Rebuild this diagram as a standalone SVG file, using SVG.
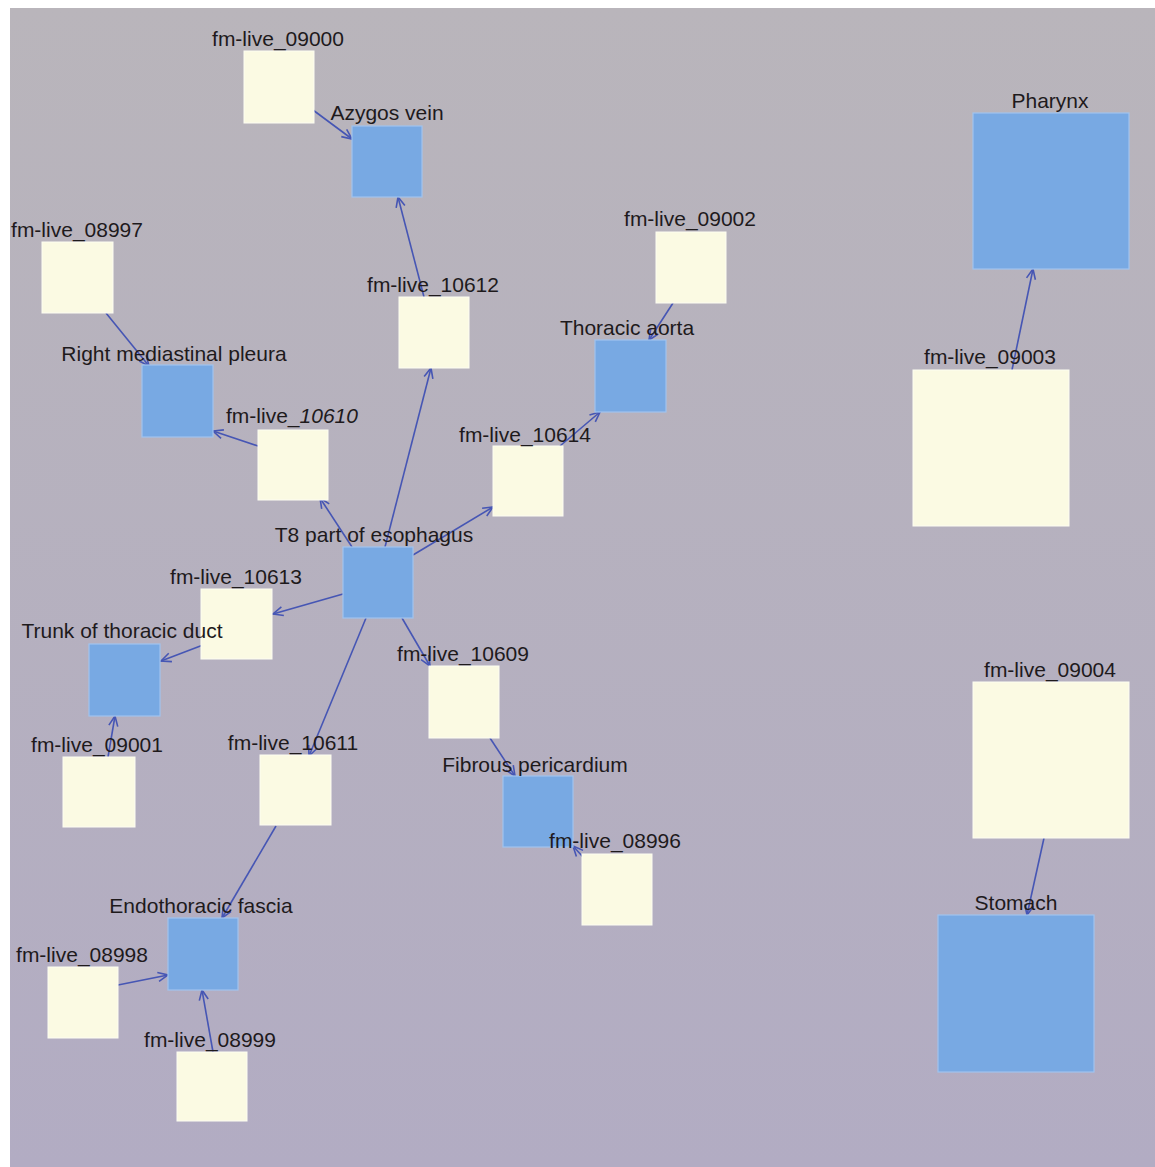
<svg xmlns="http://www.w3.org/2000/svg" width="1155" height="1167" viewBox="0 0 1155 1167">
<defs>
<linearGradient id="bg" x1="0" y1="0" x2="0" y2="1">
<stop offset="0" stop-color="#b9b5bb"/>
<stop offset="1" stop-color="#b2acc3"/>
</linearGradient>
<marker id="arr" viewBox="-12 -7 14 14" refX="0" refY="0" markerWidth="14" markerHeight="14" markerUnits="userSpaceOnUse" orient="auto">
<path d="M-10,-4.5 L0,0 L-10,4.5" fill="none" stroke="#4656b4" stroke-width="1.6"/>
</marker>
<style>
.lbl{font-family:"Liberation Sans",Arial,sans-serif;font-size:21px;fill:#1e1a1c;text-anchor:middle}
.cls{fill:#78a9e3;stroke:#a0c4ee;stroke-width:1.2}
.inst{fill:#fbfae3;stroke:#fdfdf2;stroke-width:1}
.edge{fill:none;stroke:#4656b4;stroke-width:1.6;marker-end:url(#arr)}
</style>
</defs>
<rect x="0" y="0" width="1155" height="1167" fill="#ffffff"/>
<rect x="10" y="8" width="1145" height="1159" fill="url(#bg)"/>

<g id="connectors">
<line class="edge" x1="313" y1="110" x2="352" y2="139"/>
<line class="edge" x1="424" y1="297" x2="398" y2="197"/>
<line class="edge" x1="385" y1="547" x2="431" y2="368"/>
<line class="edge" x1="106" y1="313" x2="149" y2="366"/>
<line class="edge" x1="258" y1="446" x2="213" y2="431"/>
<line class="edge" x1="352" y1="547" x2="320" y2="498"/>
<line class="edge" x1="413" y1="555" x2="493" y2="507"/>
<line class="edge" x1="560" y1="446" x2="600" y2="412"/>
<line class="edge" x1="673" y1="303" x2="649" y2="340"/>
<line class="edge" x1="343" y1="594" x2="273" y2="614"/>
<line class="edge" x1="203" y1="645" x2="161" y2="661"/>
<line class="edge" x1="108" y1="757" x2="115" y2="716"/>
<line class="edge" x1="402" y1="618" x2="430" y2="666"/>
<line class="edge" x1="490" y1="738" x2="515" y2="776"/>
<line class="edge" x1="583" y1="857" x2="573" y2="846"/>
<line class="edge" x1="366" y1="618" x2="309" y2="756"/>
<line class="edge" x1="276" y1="826" x2="222" y2="918"/>
<line class="edge" x1="118" y1="985" x2="168" y2="975"/>
<line class="edge" x1="213" y1="1052" x2="202" y2="990"/>
<line class="edge" x1="1012" y1="370" x2="1033" y2="269"/>
<line class="edge" x1="1044" y1="838" x2="1027" y2="915"/>
</g>

<g id="n09000"><rect class="inst" x="244" y="51" width="70" height="72"/><text class="lbl" x="278" y="46">fm-live_09000</text></g>
<g id="azygos"><rect class="cls" x="352" y="126" width="70" height="71"/><text class="lbl" x="387" y="120">Azygos vein</text></g>
<g id="n08997"><rect class="inst" x="42" y="242" width="71" height="71"/><text class="lbl" x="77" y="237">fm-live_08997</text></g>
<g id="n10612"><rect class="inst" x="399" y="297" width="70" height="71"/><text class="lbl" x="433" y="292">fm-live_10612</text></g>
<g id="n09002"><rect class="inst" x="656" y="232" width="70" height="71"/><text class="lbl" x="690" y="226">fm-live_09002</text></g>
<g id="thoracic_aorta"><rect class="cls" x="595" y="340" width="71" height="72"/><text class="lbl" x="627" y="335">Thoracic aorta</text></g>
<g id="right_mediastinal_pleura"><rect class="cls" x="142" y="365" width="71" height="72"/><text class="lbl" x="174" y="361">Right mediastinal pleura</text></g>
<g id="n10610"><rect class="inst" x="258" y="430" width="70" height="70"/><text class="lbl" x="292" y="423">fm-live_<tspan font-style="italic">10610</tspan></text></g>
<g id="n10614"><rect class="inst" x="493" y="446" width="70" height="70"/><text class="lbl" x="525" y="442">fm-live_10614</text></g>
<g id="t8_esophagus"><rect class="cls" x="343" y="547" width="70" height="71"/><text class="lbl" x="374" y="542">T8 part of esophagus</text></g>
<g id="n10613"><rect class="inst" x="201" y="589" width="71" height="70"/><text class="lbl" x="236" y="584">fm-live_10613</text></g>
<g id="trunk_thoracic_duct"><rect class="cls" x="89" y="644" width="71" height="72"/><text class="lbl" x="122" y="638">Trunk of thoracic duct</text></g>
<g id="n10609"><rect class="inst" x="429" y="666" width="70" height="72"/><text class="lbl" x="463" y="661">fm-live_10609</text></g>
<g id="n09001"><rect class="inst" x="63" y="757" width="72" height="70"/><text class="lbl" x="97" y="752">fm-live_09001</text></g>
<g id="n10611"><rect class="inst" x="260" y="755" width="71" height="70"/><text class="lbl" x="293" y="750">fm-live_10611</text></g>
<g id="fibrous_pericardium"><rect class="cls" x="503" y="776" width="70" height="71"/><text class="lbl" x="535" y="772">Fibrous pericardium</text></g>
<g id="n08996"><rect class="inst" x="582" y="854" width="70" height="71"/><text class="lbl" x="615" y="848">fm-live_08996</text></g>
<g id="endothoracic_fascia"><rect class="cls" x="168" y="918" width="70" height="72"/><text class="lbl" x="201" y="913">Endothoracic fascia</text></g>
<g id="n08998"><rect class="inst" x="48" y="967" width="70" height="71"/><text class="lbl" x="82" y="962">fm-live_08998</text></g>
<g id="n08999"><rect class="inst" x="177" y="1052" width="70" height="69"/><text class="lbl" x="210" y="1047">fm-live_08999</text></g>
<g id="pharynx"><rect class="cls" x="973" y="113" width="156" height="156"/><text class="lbl" x="1050" y="108">Pharynx</text></g>
<g id="n09003"><rect class="inst" x="913" y="370" width="156" height="156"/><text class="lbl" x="990" y="364">fm-live_09003</text></g>
<g id="n09004"><rect class="inst" x="973" y="682" width="156" height="156"/><text class="lbl" x="1050" y="677">fm-live_09004</text></g>
<g id="stomach"><rect class="cls" x="938" y="915" width="156" height="157"/><text class="lbl" x="1016" y="910">Stomach</text></g>
</svg>
